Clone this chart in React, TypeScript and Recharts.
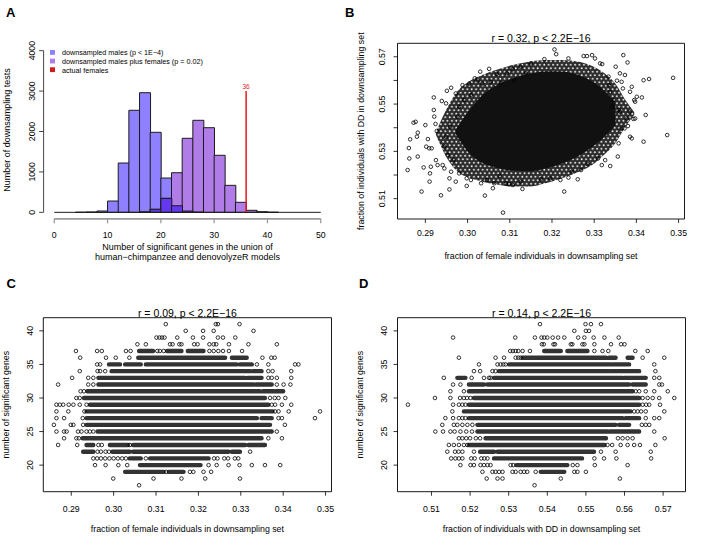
import React from "react";
import {
  ComposedChart,
  Bar,
  Line,
  Area,
  Scatter,
  XAxis,
  YAxis,
  ReferenceLine,
  ReferenceArea,
} from "recharts";

const FONT = '"Liberation Sans", Arial, Helvetica, sans-serif';

// ---------------- A: histogram, bins of width 2 ----------------
const binStarts = [0, 2, 4, 6, 8, 10, 12, 14, 16, 18, 20, 22, 24, 26, 28, 30, 32, 34, 36, 38, 40, 42, 44, 46, 48];
const malesCounts = [0, 0, 2, 8, 33, 280, 1220, 2525, 2960, 1980, 849, 163, 32, 3, 0, 0, 0, 0, 0, 0, 0, 0, 0, 0, 0];
const mixedCounts = [0, 0, 0, 0, 0, 0, 0, 0, 5, 74, 346, 980, 1832, 2277, 2094, 1411, 668, 248, 50, 15, 3, 0, 0, 0, 0];
const actualFemales = 36;
const actualFemalesTop = 3000;
const histXTicks = [0, 10, 20, 30, 40, 50];
const histYTicks = [0, 1000, 2000, 3000, 4000];
const legendLabels = [
  "downsampled males (p < 1E\u22124)",
  "downsampled males plus females (p = 0.02)",
  "actual females",
];

const MALES = "#8f80ff";
const MIXED = "#b07ce8";
const BOTH = "#6438ee";
const RED = "#e0191e";
const legendColors = [MALES, MIXED, "#d01c1c"];

// ---------------- B: female fraction vs DD fraction ----------------
const femaleTicks = [0.29, 0.3, 0.31, 0.32, 0.33, 0.34, 0.35];
const ddTicks = [0.51, 0.52, 0.53, 0.54, 0.55, 0.56, 0.57];
const ddTicksLabelled = [0.51, 0.53, 0.55, 0.57];
const genesTicks = [20, 25, 30, 35, 40];

// outline of the dense cloud (x, lower / upper edge)
const blobX = [0.2925, 0.2949, 0.2972, 0.3008, 0.3035, 0.3067, 0.3106, 0.3146, 0.3185, 0.3224, 0.3264, 0.3295, 0.3319, 0.335, 0.3374, 0.3395];
const haloLow = [0.537, 0.5278, 0.5221, 0.5186, 0.5172, 0.5161, 0.5151, 0.5151, 0.5165, 0.5186, 0.5214, 0.5242, 0.5278, 0.5334, 0.5404, 0.5455];
const haloHigh = [0.538, 0.5475, 0.5545, 0.5601, 0.5623, 0.5644, 0.5665, 0.5679, 0.5686, 0.5686, 0.5679, 0.5661, 0.5637, 0.5587, 0.5517, 0.5465];
const coreLow = [null, null, 0.5372, 0.5285, 0.5252, 0.5232, 0.5218, 0.5216, 0.5228, 0.5249, 0.5282, 0.5318, 0.5352, 0.541, null, null];
const coreHigh = [null, null, 0.5392, 0.5482, 0.5538, 0.5578, 0.5608, 0.5628, 0.5638, 0.5637, 0.5622, 0.5596, 0.5565, 0.5505, null, null];

// points around the cloud
const bPoints: [number, number][] = [
  [0.2858, 0.5221], [0.2862, 0.527], [0.2861, 0.5314], [0.2864, 0.5351], [0.2872, 0.5421], [0.2877, 0.5425],
  [0.2882, 0.5379], [0.288, 0.5362], [0.2882, 0.5278], [0.2891, 0.513], [0.29, 0.5411], [0.2896, 0.5232],
  [0.2906, 0.5352], [0.2902, 0.532], [0.2909, 0.5313], [0.2915, 0.5313], [0.2913, 0.5235], [0.2911, 0.5207],
  [0.291, 0.5172], [0.292, 0.5528], [0.292, 0.5475], [0.2921, 0.5447], [0.2924, 0.5416], [0.2927, 0.5386],
  [0.2925, 0.5263], [0.2929, 0.5242], [0.2937, 0.5114], [0.2939, 0.5513], [0.2949, 0.5503], [0.2951, 0.5556],
  [0.2961, 0.5569], [0.2957, 0.5186], [0.2972, 0.5172], [0.2972, 0.5545], [0.2957, 0.5139], [0.2998, 0.5154],
  [0.2998, 0.5186], [0.3017, 0.5609], [0.303, 0.5637], [0.3051, 0.5649], [0.3069, 0.5627], [0.3093, 0.563],
  [0.3107, 0.5647], [0.3126, 0.5658], [0.315, 0.5672], [0.3041, 0.5113], [0.306, 0.5144], [0.3084, 0.5041],
  [0.3091, 0.5165], [0.3098, 0.5162], [0.3107, 0.5158], [0.3126, 0.5172], [0.313, 0.5141], [0.3063, 0.5165],
  [0.3076, 0.5196], [0.3046, 0.5179], [0.3032, 0.5165], [0.3008, 0.5179], [0.298, 0.5207], [0.2961, 0.5214],
  [0.2945, 0.5228], [0.2941, 0.5242], [0.3008, 0.5538], [0.2992, 0.5517], [0.298, 0.5489], [0.2976, 0.5447],
  [0.2959, 0.5404], [0.2949, 0.5362], [0.2945, 0.532], [0.2953, 0.5285], [0.2967, 0.5263], [0.2988, 0.558],
  [0.3004, 0.5587], [0.3024, 0.5601], [0.3035, 0.5587], [0.3055, 0.5594], [0.3079, 0.559], [0.311, 0.5601],
  [0.3138, 0.563], [0.3206, 0.5731], [0.321, 0.5711], [0.3182, 0.569], [0.3239, 0.5693], [0.3275, 0.5703],
  [0.3283, 0.5703], [0.3295, 0.5707], [0.3302, 0.5693], [0.3314, 0.5672], [0.3319, 0.5669], [0.3369, 0.5707],
  [0.3379, 0.5676], [0.3351, 0.5658], [0.3361, 0.563], [0.3373, 0.5623], [0.3389, 0.5573], [0.3417, 0.5601],
  [0.343, 0.5606], [0.3487, 0.5611], [0.3401, 0.5531], [0.3413, 0.5528], [0.3395, 0.5517], [0.3397, 0.551],
  [0.3422, 0.5454], [0.3393, 0.5437], [0.338, 0.5407], [0.3385, 0.5362], [0.3389, 0.5355], [0.3473, 0.5369],
  [0.3417, 0.5341], [0.3356, 0.5278], [0.3338, 0.5238], [0.3318, 0.5242], [0.3326, 0.5263], [0.3309, 0.527],
  [0.3284, 0.5247], [0.3261, 0.5182], [0.3239, 0.5189], [0.322, 0.5179], [0.3229, 0.513], [0.3196, 0.5186],
  [0.3174, 0.5182], [0.3269, 0.5221], [0.3247, 0.5214], [0.3358, 0.5334], [0.3365, 0.5397], [0.3372, 0.5397],
  [0.3377, 0.5439], [0.3397, 0.5439], [0.3358, 0.5475], [0.3361, 0.5468], [0.3342, 0.5489], [0.3346, 0.5517],
  [0.3384, 0.5468], [0.3338, 0.5552], [0.3335, 0.558], [0.3368, 0.5566], [0.3385, 0.5552], [0.3365, 0.5594],
  [0.3334, 0.5616], [0.3354, 0.5599],
];

// ---------------- C / D: rows of integer gene counts ----------------
const geneRows = [41, 40, 39, 38, 37, 36, 35, 34, 33, 32, 31, 30, 29, 28, 27, 26, 25, 24, 23, 22, 21, 20, 19, 18, 17];

const cSparse: number[][] = [
  [0.3123, 0.3241, 0.3246, 0.3297],
  [0.317, 0.3211, 0.3236, 0.333],
  [0.3101, 0.3108, 0.3114, 0.312, 0.315, 0.3187, 0.3211, 0.3246, 0.3258, 0.3287],
  [0.3056, 0.3076, 0.3133, 0.3139, 0.3155, 0.316, 0.319, 0.3198, 0.3226, 0.3236, 0.3242, 0.3272, 0.3318, 0.3385],
  [0.2911, 0.2961, 0.2972, 0.3029, 0.304, 0.3103, 0.3109, 0.3118, 0.3226, 0.3236, 0.3247, 0.3258, 0.3272, 0.3303],
  [0.2921, 0.2982, 0.3005, 0.3037, 0.3351, 0.3372, 0.338],
  [0.2961, 0.2968, 0.3338, 0.3365, 0.3428, 0.3436],
  [0.292, 0.2962, 0.2968, 0.298, 0.3365, 0.3375, 0.3419],
  [0.2902, 0.294, 0.2952, 0.3365, 0.3373, 0.3385, 0.3419],
  [0.2869, 0.294, 0.2952, 0.3385, 0.3401, 0.3417],
  [0.2922, 0.293],
  [0.2912, 0.292, 0.3369, 0.338, 0.3389, 0.3405],
  [0.2865, 0.2873, 0.2881, 0.2894, 0.2905, 0.292, 0.2936, 0.3373, 0.3381, 0.3397, 0.3419],
  [0.2865, 0.2893, 0.2931, 0.3381, 0.3389, 0.3413, 0.3487],
  [0.2865, 0.2883, 0.2927, 0.3389, 0.3397, 0.3475],
  [0.2859, 0.2899, 0.2905, 0.2928, 0.3404],
  [0.2865, 0.2883, 0.2889, 0.2916, 0.2924, 0.2936, 0.2944, 0.2952, 0.3385],
  [0.2883, 0.2912, 0.2918, 0.3365, 0.3397],
  [0.2869, 0.2914, 0.2964, 0.2972, 0.3038],
  [0.2962, 0.297, 0.2981, 0.2989, 0.3322],
  [0.2952, 0.2961, 0.297, 0.298, 0.299, 0.3, 0.301, 0.302, 0.3029, 0.3076, 0.3237, 0.3245, 0.3261, 0.327, 0.3286, 0.3294],
  [0.2956, 0.2981, 0.3011, 0.3032, 0.3224, 0.3243, 0.3271, 0.3297, 0.3326, 0.3357, 0.3393],
  [0.3124, 0.318, 0.3188, 0.3212, 0.323],
  [0.2999, 0.3094, 0.316, 0.3216, 0.3298],
  [0.306],
];
const cBands: [number, number][][] = [
  [], [], [], [],
  [[0.306, 0.3093], [0.3126, 0.316], [0.3175, 0.3212]],
  [[0.3058, 0.3263], [0.3279, 0.3314]],
  [[0.2989, 0.3015], [0.3027, 0.3064], [0.3076, 0.329], [0.3298, 0.3326]],
  [[0.2995, 0.3322], [0.3328, 0.3349]],
  [[0.2964, 0.331], [0.3316, 0.3349]],
  [[0.2964, 0.333], [0.3336, 0.3373]],
  [[0.2938, 0.3345], [0.3352, 0.3378], [0.3383, 0.34]],
  [[0.293, 0.3357]],
  [[0.2944, 0.3365]],
  [[0.2936, 0.3375]],
  [[0.2936, 0.3338], [0.3349, 0.3373]],
  [[0.2936, 0.3369]],
  [[0.2962, 0.3373]],
  [[0.2927, 0.3349]],
  [[0.2936, 0.2952], [0.2991, 0.3034], [0.3046, 0.331], [0.3318, 0.3357]],
  [[0.2928, 0.2952], [0.2997, 0.3038], [0.3046, 0.3271], [0.3279, 0.3298]],
  [[0.3038, 0.3064], [0.3086, 0.3224]],
  [[0.3062, 0.3205]],
  [[0.3027, 0.3118], [0.313, 0.3165]],
  [], [],
];

const dSparse: number[][] = [
  [0.5381, 0.5499, 0.5513, 0.5539],
  [0.547, 0.55, 0.5508],
  [0.5156, 0.5317, 0.5368, 0.5385, 0.5392, 0.54, 0.5414, 0.5428, 0.5444, 0.548, 0.5496, 0.552, 0.5548, 0.5585],
  [0.5386, 0.5391, 0.5416, 0.542, 0.5461, 0.5465, 0.5491, 0.5496, 0.5522, 0.5565, 0.5591, 0.56],
  [0.5304, 0.5311, 0.5318, 0.5325, 0.5336, 0.5355, 0.5522, 0.5543, 0.5558, 0.5628, 0.566],
  [0.5171, 0.5266, 0.5288, 0.5318, 0.5325, 0.5331, 0.5647, 0.5703],
  [0.5223, 0.5271, 0.5279, 0.5286, 0.5292, 0.5677],
  [0.521, 0.5226, 0.5258, 0.5266, 0.568],
  [0.5132, 0.5204, 0.5236, 0.5249, 0.5253, 0.5677, 0.569],
  [0.5156, 0.5175, 0.569, 0.5697],
  [0.5149, 0.5184, 0.5629, 0.5638, 0.5655, 0.5677, 0.5712],
  [0.5109, 0.5149, 0.5174, 0.5184, 0.5192, 0.5201, 0.5647, 0.566, 0.5673, 0.569, 0.5729],
  [0.5039, 0.5156, 0.5171, 0.518, 0.5188, 0.5647, 0.5656, 0.5664, 0.5692],
  [0.5154, 0.5625, 0.5634, 0.5643, 0.5655, 0.5703],
  [0.5136, 0.5156, 0.5171, 0.518, 0.5188, 0.5655, 0.5677, 0.569],
  [0.5128, 0.5158, 0.5167, 0.518, 0.5193, 0.5206, 0.5645, 0.5655, 0.5664],
  [0.511, 0.513, 0.5149, 0.516, 0.5175, 0.519, 0.5205, 0.5677],
  [0.5171, 0.518, 0.519, 0.52, 0.5215, 0.5226, 0.5583, 0.5595, 0.5608, 0.5621, 0.5704],
  [0.5145, 0.5158, 0.5171, 0.5184, 0.5193, 0.5556, 0.5568, 0.559, 0.5608, 0.5625, 0.564, 0.568],
  [0.5141, 0.5161, 0.517, 0.518, 0.521, 0.5539, 0.5577, 0.5668],
  [0.5151, 0.5162, 0.5171, 0.518, 0.5203, 0.5212, 0.5229, 0.5237, 0.5245, 0.5522, 0.5547, 0.5579, 0.5669],
  [0.5175, 0.5201, 0.521, 0.5227, 0.5236, 0.5245, 0.5253, 0.5305, 0.5312, 0.5466, 0.5478, 0.5523, 0.5608],
  [0.5232, 0.5258, 0.5266, 0.5275, 0.5284, 0.531, 0.5318, 0.5331, 0.534, 0.5348, 0.537, 0.547, 0.5478, 0.55],
  [0.5243, 0.5271, 0.5284, 0.5435, 0.5588],
  [0.5367],
];
const dBands: [number, number][][] = [
  [], [], [], [],
  [[0.5392, 0.5435], [0.5452, 0.5504]],
  [[0.5336, 0.5552], [0.556, 0.5577], [0.5608, 0.5621]],
  [[0.5301, 0.5565], [0.557, 0.5612]],
  [[0.5275, 0.556], [0.5565, 0.5638]],
  [[0.5167, 0.5188], [0.5262, 0.5595], [0.5599, 0.5655]],
  [[0.5197, 0.5236], [0.5245, 0.5612], [0.5621, 0.5655]],
  [[0.5197, 0.5621]],
  [[0.521, 0.5638]],
  [[0.5197, 0.5638]],
  [[0.5184, 0.5616]],
  [[0.5197, 0.5595], [0.5603, 0.5638]],
  [[0.5219, 0.5577], [0.5586, 0.5612]],
  [[0.5219, 0.5556], [0.5562, 0.5638]],
  [[0.524, 0.5552]],
  [[0.5197, 0.5548]],
  [[0.5226, 0.5262], [0.5271, 0.5521]],
  [[0.5262, 0.549]],
  [[0.532, 0.5452]],
  [[0.5383, 0.5444]],
  [], [],
];

// ---------------- derived tables ----------------
const histData = binStarts.map((b, i) => ({
  bin: `${b}-${b + 2}`,
  males: malesCounts[i],
  mixed: mixedCounts[i],
  both: Math.min(malesCounts[i], mixedCounts[i]),
}));

const blobData = blobX.map((x, i) => ({
  x,
  halo: [haloLow[i], haloHigh[i]],
  core: coreLow[i] == null ? null : [coreLow[i], coreHigh[i]],
}));

const toPoints = (rows: number[], xs: number[][]) =>
  rows.flatMap((r, i) => xs[i].map((x) => ({ x, y: r })));

const toBandLine = (rows: number[], bands: [number, number][][]) => {
  const out: { x: number; y: number | null }[] = [];
  rows.forEach((r, i) =>
    bands[i].forEach(([lo, hi]) => {
      out.push({ x: lo, y: r }, { x: hi, y: r }, { x: hi, y: null });
    })
  );
  return out;
};

// ---------------- shared bits ----------------
const TICK_FONT = 8.7;

const xTick = (dy: number, fmt: (v: number) => string) => (p: any) => (
  <text x={p.x} y={p.y + dy} textAnchor="middle" fontSize={TICK_FONT} fontFamily={FONT} fill="#000">
    {fmt(p.payload.value)}
  </text>
);

const yTick = (dx: number, fmt: (v: number) => string) => (p: any) => {
  const x = p.x + dx;
  return (
    <text
      x={x}
      y={p.y}
      transform={`rotate(-90 ${x} ${p.y})`}
      textAnchor="middle"
      fontSize={TICK_FONT}
      fontFamily={FONT}
      fill="#000"
    >
      {fmt(p.payload.value)}
    </text>
  );
};

const ring = (p: any) => (
  <circle cx={p.cx} cy={p.cy} r={1.8} fill="none" stroke="#000" strokeWidth={0.8} />
);

// ---------------- panel A ----------------
function PanelA() {
  const W = 354;
  const H = 270;
  // axes take 1px each, so the plot area is 43.6..331.4 x 44.2..218.8
  const margin = { top: 44.2, right: 22.6, bottom: 50.2, left: 42.6 };
  const xDomain: [number, number] = [-2, 52];
  const yDomain: [number, number] = [-160, 4160];
  const plotW = W - margin.left - 1 - margin.right;
  const span = xDomain[1] - xDomain[0];
  const padL = ((histXTicks[0] - xDomain[0]) / span) * plotW;
  const padR = ((xDomain[1] - histXTicks[histXTicks.length - 1]) / span) * plotW;
  const xEnd = histXTicks[histXTicks.length - 1];

  return (
    <ComposedChart width={W} height={H} data={histData} margin={margin} barCategoryGap={0} barGap={0}>
      <XAxis
        xAxisId="num"
        type="number"
        dataKey="x"
        domain={xDomain}
        ticks={histXTicks}
        interval={0}
        allowDataOverflow
        height={1}
        axisLine={false}
        tickSize={4.5}
        tickMargin={0}
        tickLine={{ stroke: "#9b9b9b", strokeWidth: 1.3 }}
        tick={xTick(14.8, (v) => String(v))}
      />
      {["m", "f", "o"].map((id) => (
        <XAxis
          key={id}
          xAxisId={id}
          dataKey="bin"
          type="category"
          orientation="top"
          height={0}
          hide
          padding={{ left: padL, right: padR }}
        />
      ))}
      <YAxis
        type="number"
        domain={yDomain}
        ticks={histYTicks}
        interval={0}
        allowDataOverflow
        width={1}
        axisLine={false}
        tickSize={4.5}
        tickMargin={0}
        tickLine={{ stroke: "#333", strokeWidth: 0.9 }}
        tick={yTick(-3.8, (v) => String(v))}
      />
      <Bar xAxisId="m" dataKey="males" fill={MALES} stroke="#1c1c1c" strokeWidth={1} isAnimationActive={false} />
      <Bar xAxisId="f" dataKey="mixed" fill={MIXED} stroke="#1c1c1c" strokeWidth={1} isAnimationActive={false} />
      <Bar xAxisId="o" dataKey="both" fill={BOTH} stroke="#1c1c1c" strokeWidth={1} isAnimationActive={false} />
      <ReferenceLine
        xAxisId="num"
        segment={[{ x: histXTicks[0], y: 0 }, { x: xEnd, y: 0 }]}
        stroke="#1c1c1c"
        strokeWidth={1}
        ifOverflow="visible"
      />
      <ReferenceLine
        xAxisId="num"
        segment={[{ x: histXTicks[0], y: yDomain[0] }, { x: xEnd, y: yDomain[0] }]}
        stroke="#9b9b9b"
        strokeWidth={1.8}
        ifOverflow="visible"
      />
      <ReferenceLine
        xAxisId="num"
        segment={[{ x: xDomain[0], y: histYTicks[0] }, { x: xDomain[0], y: histYTicks[histYTicks.length - 1] }]}
        stroke="#333"
        strokeWidth={0.9}
        ifOverflow="visible"
      />
      <Line
        xAxisId="num"
        data={[
          { x: actualFemales, y: 0 },
          { x: actualFemales, y: actualFemalesTop },
        ]}
        dataKey="y"
        stroke={RED}
        strokeWidth={1.5}
        dot={false}
        isAnimationActive={false}
        label={(p: any) =>
          p.index === 1 ? (
            <text x={p.x} y={p.y - 2.5} textAnchor="middle" fontSize={6.5} fontFamily={FONT} fill={RED}>
              {actualFemales}
            </text>
          ) : (
            <g />
          )
        }
      />
    </ComposedChart>
  );
}

// ---------------- scatter panels ----------------
type PanelProps = {
  margin: { top: number; right: number; bottom: number; left: number };
  xDomain: [number, number];
  yDomain: [number, number];
  xTicks: number[];
  yTicks: number[];
  yLabelled: number[];
  yDigits: number;
  xLabelDy: number;
  yLabelDx: number;
  points: { x: number; y: number }[];
  bands?: { x: number; y: number | null }[];
  blob?: any[];
};

function DotPanel(props: PanelProps) {
  const { margin, xDomain, yDomain, xTicks, yTicks, yLabelled, yDigits, xLabelDy, yLabelDx, points, bands, blob } = props;
  const yFmt = (v: number) =>
    yLabelled.some((t) => Math.abs(t - v) < 1e-9) ? v.toFixed(yDigits) : "";
  // axes take 1px each
  const m = { ...margin, left: margin.left - 1, bottom: margin.bottom - 1 };
  return (
    <ComposedChart width={354} height={270} margin={m} data={blob}>
      <defs>
        {/* overlapping open circles: dark with small white gaps */}
        <pattern id="ringTexture" width={4.4} height={7} patternUnits="userSpaceOnUse">
          <rect width={4.4} height={7} fill="#2c2c2c" />
          <circle cx={1.1} cy={1.75} r={0.95} fill="#e8e8e8" />
          <circle cx={3.3} cy={5.25} r={0.95} fill="#e8e8e8" />
        </pattern>
      </defs>
      <XAxis
        type="number"
        dataKey="x"
        domain={xDomain}
        ticks={xTicks}
        interval={0}
        allowDataOverflow
        height={1}
        axisLine={false}
        tickSize={4}
        tickMargin={0}
        tickLine={{ stroke: "#000", strokeWidth: 0.8 }}
        tick={xTick(xLabelDy, (v) => v.toFixed(2))}
      />
      <YAxis
        type="number"
        dataKey="y"
        domain={yDomain}
        ticks={yTicks}
        interval={0}
        allowDataOverflow
        width={1}
        axisLine={false}
        tickSize={4}
        tickMargin={0}
        tickLine={{ stroke: "#000", strokeWidth: 0.8 }}
        tick={yTick(yLabelDx, yFmt)}
      />
      <ReferenceArea
        x1={xDomain[0]}
        x2={xDomain[1]}
        y1={yDomain[0]}
        y2={yDomain[1]}
        fill="none"
        fillOpacity={0}
        stroke="#000"
        strokeWidth={0.9}
        ifOverflow="visible"
      />
      {blob && (
        <Area
          dataKey="halo"
          type="monotone"
          stroke="none"
          fill="url(#ringTexture)"
          fillOpacity={1}
          isAnimationActive={false}
        />
      )}
      {blob && (
        <Area dataKey="core" type="monotone" stroke="none" fill="#111" fillOpacity={1} isAnimationActive={false} />
      )}
      {bands && (
        <Line
          data={bands}
          dataKey="y"
          stroke="#333"
          strokeWidth={4.4}
          strokeLinecap="round"
          dot={false}
          connectNulls={false}
          isAnimationActive={false}
        />
      )}
      <Scatter data={points} dataKey="y" shape={ring} isAnimationActive={false} />
    </ComposedChart>
  );
}

const Txt = (p: any) => <text fontFamily={FONT} fill="#000" {...p} />;

export default function App() {
  const bPts = bPoints.map(([x, y]) => ({ x, y }));
  const femaleDomain: [number, number] = [0.2834, 0.3514];
  const ddDomain: [number, number] = [0.5014, 0.5757];
  const ddDomainX: [number, number] = [0.5012, 0.5758];
  const genesDomain: [number, number] = [16.04, 41.96];

  return (
    <div style={{ position: "absolute", left: 0, top: 0, width: 708, height: 547, background: "#fff", overflow: "hidden" }}>
      <div style={{ position: "absolute", left: 0, top: 0 }}>
        <PanelA />
      </div>
      <div style={{ position: "absolute", left: 354, top: 0 }}>
        <DotPanel
          margin={{ top: 43.3, right: 23.5, bottom: 51, left: 43.5 }}
          xDomain={femaleDomain}
          yDomain={ddDomain}
          xTicks={femaleTicks}
          yTicks={ddTicks}
          yLabelled={ddTicksLabelled}
          yDigits={2}
          xLabelDy={13.1}
          yLabelDx={-8.2}
          points={bPts}
          blob={blobData}
        />
      </div>
      <div style={{ position: "absolute", left: 0, top: 270 }}>
        <DotPanel
          margin={{ top: 47.7, right: 22.5, bottom: 48.3, left: 43.3 }}
          xDomain={femaleDomain}
          yDomain={genesDomain}
          xTicks={femaleTicks}
          yTicks={genesTicks}
          yLabelled={genesTicks}
          yDigits={0}
          xLabelDy={16.2}
          yLabelDx={-6.4}
          points={toPoints(geneRows, cSparse)}
          bands={toBandLine(geneRows, cBands)}
        />
      </div>
      <div style={{ position: "absolute", left: 354, top: 270 }}>
        <DotPanel
          margin={{ top: 47.7, right: 22.5, bottom: 48.3, left: 43.5 }}
          xDomain={ddDomainX}
          yDomain={genesDomain}
          xTicks={ddTicks}
          yTicks={genesTicks}
          yLabelled={genesTicks}
          yDigits={0}
          xLabelDy={16.2}
          yLabelDx={-6.6}
          points={toPoints(geneRows, dSparse)}
          bands={toBandLine(geneRows, dBands)}
        />
      </div>

      <svg width={708} height={547} style={{ position: "absolute", left: 0, top: 0, pointerEvents: "none" }}>
        <Txt x={6} y={16.7} fontSize={13} fontWeight="bold">A</Txt>
        <Txt x={345} y={16.7} fontSize={13} fontWeight="bold">B</Txt>
        <Txt x={6.5} y={288.3} fontSize={13} fontWeight="bold">C</Txt>
        <Txt x={359} y={288.3} fontSize={13} fontWeight="bold">D</Txt>

        {legendLabels.map((t, i) => (
          <g key={t}>
            <rect x={50} y={50 + i * 8.65} width={5} height={4.8} fill={legendColors[i]} />
            <Txt x={62} y={55.2 + i * 8.65} fontSize={7.2}>{t}</Txt>
          </g>
        ))}

        <Txt x={187.5} y={250} fontSize={9} textAnchor="middle">Number of significant genes in the union of</Txt>
        <Txt x={187.5} y={260.2} fontSize={9} textAnchor="middle">human{"\u2212"}chimpanzee and denovolyzeR models</Txt>
        <Txt transform="translate(9.8,130) rotate(-90)" fontSize={9} textAnchor="middle">Number of downsampling tests</Txt>

        <Txt x={541} y={42} fontSize={10.5} textAnchor="middle">{"r = 0.32, p < 2.2E\u221216"}</Txt>
        <Txt x={541} y={259.2} fontSize={8.8} textAnchor="middle">fraction of female individuals in downsampling set</Txt>
        <Txt transform="translate(364,131.2) rotate(-90)" fontSize={8.8} textAnchor="middle">fraction of individuals with DD in downsampling set</Txt>

        <Txt x={187.4} y={316.5} fontSize={10.5} textAnchor="middle">{"r = 0.09, p < 2.2E\u221216"}</Txt>
        <Txt x={187.4} y={531.8} fontSize={8.8} textAnchor="middle">fraction of female individuals in downsampling set</Txt>
        <Txt transform="translate(9,404.7) rotate(-90)" fontSize={8.8} textAnchor="middle">number of significant genes</Txt>

        <Txt x={541.5} y={316.5} fontSize={10.5} textAnchor="middle">{"r = 0.14, p < 2.2E\u221216"}</Txt>
        <Txt x={541.5} y={531.8} fontSize={8.8} textAnchor="middle">fraction of individuals with DD in downsampling set</Txt>
        <Txt transform="translate(363,404.7) rotate(-90)" fontSize={8.8} textAnchor="middle">number of significant genes</Txt>
      </svg>
    </div>
  );
}
